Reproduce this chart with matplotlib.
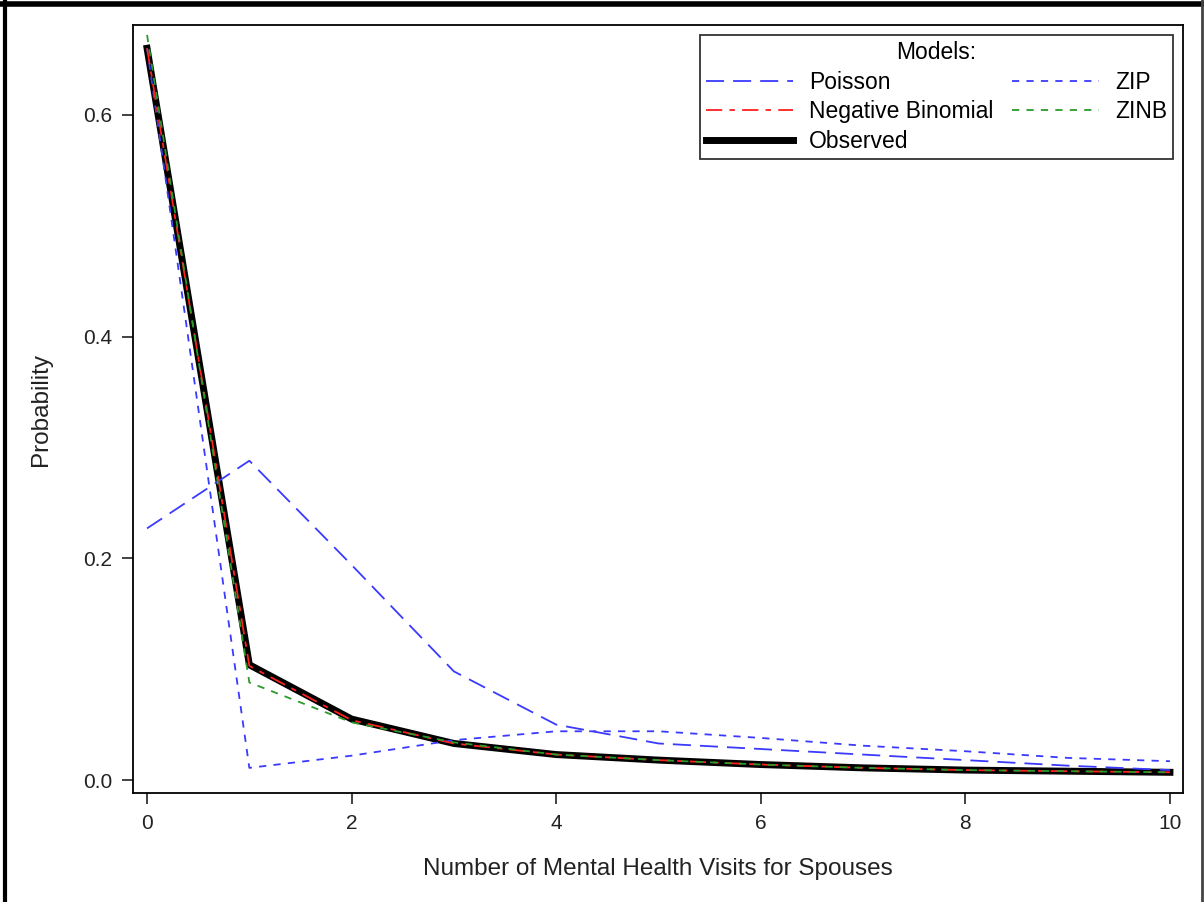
import matplotlib.pyplot as plt
from matplotlib.lines import Line2D

plt.rcParams['font.family'] = ['Liberation Sans', 'DejaVu Sans']

visits = [0, 1, 2, 3, 4, 5, 6, 7, 8, 9, 10]
observed = [0.660, 0.104, 0.055, 0.033, 0.023, 0.018, 0.014, 0.011, 0.009, 0.008, 0.007]
poisson = [0.227, 0.288, 0.194, 0.098, 0.050, 0.033, 0.028, 0.023, 0.018, 0.013, 0.009]
negbin = [0.660, 0.103, 0.054, 0.033, 0.023, 0.018, 0.014, 0.011, 0.009, 0.008, 0.007]
zip_ = [0.660, 0.011, 0.022, 0.036, 0.044, 0.044, 0.038, 0.031, 0.026, 0.020, 0.017]
zinb = [0.672, 0.088, 0.052, 0.034, 0.023, 0.018, 0.014, 0.011, 0.009, 0.008, 0.007]

fig = plt.figure(figsize=(12.04, 9.02), dpi=100)
ax = fig.add_axes([0.1105, 0.1208, 0.872, 0.8515])

ax.plot(visits, observed, color='black', lw=5, label='Observed', zorder=2)
ax.plot(visits, poisson, color='#3a3aff', lw=1.3, dashes=(10, 5), label='Poisson', zorder=3)
ax.plot(visits, negbin, color='#ff2020', lw=1.3, dashes=(9, 4, 3, 4), label='Negative Binomial', zorder=4)
ax.plot(visits, zip_, color='#3a3aff', lw=1.3, dashes=(4, 4), label='ZIP', zorder=3)
ax.plot(visits, zinb, color='#2a9a2a', lw=1.3, dashes=(4, 4), label='ZINB', zorder=5)

ax.set_xlim(-0.137, 10.127)
ax.set_ylim(-0.0117, 0.681)
ax.set_xticks([0, 2, 4, 6, 8, 10])
ax.set_yticks([0.0, 0.2, 0.4, 0.6])
ax.set_yticklabels(['0.0', '0.2', '0.4', '0.6'])
ax.tick_params(labelsize=15, length=8, width=1.2, pad=7, colors='#222222')
for s in ax.spines.values():
    s.set_linewidth(1.3)
ax.set_xlabel('Number of Mental Health Visits for Spouses', fontsize=17.5, labelpad=18, color='#222222')
ax.set_ylabel('Probability', fontsize=17.5, labelpad=22, color='#222222')

h, l = ax.get_legend_handles_labels()
order = [1, 2, 0, 3, 4]
leg = ax.legend([h[i] for i in order], [l[i] for i in order], loc='upper right',
                bbox_to_anchor=(0.9905, 0.987), ncol=2, title='Models:', fontsize=16.5,
                title_fontsize=16.5, frameon=True, fancybox=False, edgecolor='black',
                handlelength=3.8, columnspacing=0.8, borderaxespad=0, labelspacing=0.3,
                borderpad=0.25, handletextpad=0.7)
leg.get_frame().set_linewidth(1.3)

fig.add_artist(Line2D([0, 1], [0.9955, 0.9955], color='black', lw=4, transform=fig.transFigure))
fig.add_artist(Line2D([0.004, 0.004], [0, 1], color='black', lw=3, transform=fig.transFigure))
fig.add_artist(Line2D([0.998, 0.998], [0, 1], color='#444444', lw=2, transform=fig.transFigure))

fig.savefig('out.png', dpi=100)
